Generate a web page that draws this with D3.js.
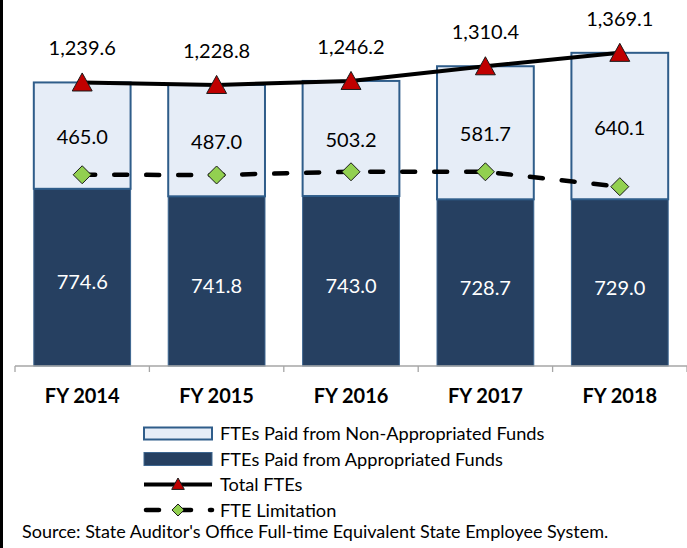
<!DOCTYPE html>
<html>
<head>
<meta charset="utf-8">
<script src="https://cdn.jsdelivr.net/npm/d3@7"></script>
<style>
	body { margin: 0; background: #fff; }
	svg { display: block; font-family: Lato, "Open Sans", sans-serif; }
</style>
</head>
<body>
<div id="chart"></div>
<script>
var years = ["FY 2014", "FY 2015", "FY 2016", "FY 2017", "FY 2018"];
var appropriated = [774.6, 741.8, 743.0, 728.7, 729.0];
var nonAppropriated = [465.0, 487.0, 503.2, 581.7, 640.1];
var totalFtes = [1239.6, 1228.8, 1246.2, 1310.4, 1369.1];
var fteLimitation = [836.0, 835.0, 849.0, 849.0, 784.0];

var width = 687, height = 548;
var axisY = 366;

var svg = d3.select("#chart").append("svg")
	.attr("width", width)
	.attr("height", height);

svg.append("rect")
	.attr("width", width).attr("height", height)
	.attr("fill", "#fff");

// thin dark strip on the left edge
svg.append("rect")
	.attr("x", 0).attr("y", 0)
	.attr("width", 3).attr("height", height)
	.attr("fill", "#000");

var x = d3.scaleBand()
	.domain(years)
	.range([15, 687])
	.paddingInner(0.28)
	.paddingOuter(0.14);

var y = d3.scaleLinear()
	.domain([0, 1600])
	.range([axisY, 0]);

var rows = years.map(function(d, i){
	return {
		key: d,
		app: appropriated[i],
		non: nonAppropriated[i],
		total: totalFtes[i],
		limit: fteLimitation[i]
	};
});

// stacked bars
var bars = svg.append("g").attr("class", "bars");

bars.selectAll("rect.app")
	.data(rows)
	.enter().append("rect")
	.attr("class", "app")
	.attr("x", function(d){ return x(d.key); })
	.attr("y", function(d){ return y(d.app); })
	.attr("width", x.bandwidth())
	.attr("height", function(d){ return y(0) - y(d.app); })
	.attr("fill", "#264061")
	.attr("stroke", "#3d6690")
	.attr("stroke-width", 1);

bars.selectAll("rect.non")
	.data(rows)
	.enter().append("rect")
	.attr("class", "non")
	.attr("x", function(d){ return x(d.key); })
	.attr("y", function(d){ return y(d.app + d.non); })
	.attr("width", x.bandwidth())
	.attr("height", function(d){ return y(d.app) - y(d.app + d.non); })
	.attr("fill", "#e6edf7")
	.attr("stroke", "#2f5d8a")
	.attr("stroke-width", 2);

// segment labels
var fmt1 = d3.format(".1f");
var fmtTotal = d3.format(",.1f");

bars.selectAll("text.app-label")
	.data(rows)
	.enter().append("text")
	.attr("class", "app-label")
	.attr("x", function(d){ return x(d.key) + x.bandwidth()/2; })
	.attr("y", function(d){ return (y(0) + y(d.app))/2 + 12; })
	.attr("text-anchor", "middle")
	.attr("font-size", "20px")
	.attr("fill", "#fff")
	.text(function(d){ return fmt1(d.app); });

bars.selectAll("text.non-label")
	.data(rows)
	.enter().append("text")
	.attr("class", "non-label")
	.attr("x", function(d){ return x(d.key) + x.bandwidth()/2; })
	.attr("y", function(d){ return (y(d.app) + y(d.app + d.non))/2 + 8.5; })
	.attr("text-anchor", "middle")
	.attr("font-size", "20px")
	.attr("fill", "#000")
	.text(function(d){ return fmt1(d.non); });

// x axis
var axis = svg.append("g")
	.attr("class", "x axis")
	.attr("transform", "translate(0," + axisY + ")");

axis.append("line")
	.attr("x1", 15).attr("x2", 687)
	.attr("stroke", "#a6a6a6").attr("stroke-width", 1.3);

var step = x.step();
axis.selectAll("line.tick")
	.data(d3.range(years.length + 1))
	.enter().append("line")
	.attr("class", "tick")
	.attr("x1", function(i){ return x(years[0]) - x.paddingOuter()*step + i*step; })
	.attr("x2", function(i){ return x(years[0]) - x.paddingOuter()*step + i*step; })
	.attr("y1", 0).attr("y2", 6)
	.attr("stroke", "#a6a6a6").attr("stroke-width", 1.3);

axis.selectAll("text")
	.data(years)
	.enter().append("text")
	.attr("x", function(d){ return x(d) + x.bandwidth()/2; })
	.attr("y", 37)
	.attr("text-anchor", "middle")
	.attr("font-size", "20px")
	.attr("font-weight", "bold")
	.attr("fill", "#000")
	.text(function(d){ return d; });

// lines
var cx = function(d){ return x(d.key) + x.bandwidth()/2; };

var limitLine = d3.line()
	.x(cx)
	.y(function(d){ return y(d.limit); });

var totalLine = d3.line()
	.x(cx)
	.y(function(d){ return y(d.total); });

svg.append("path")
	.datum(rows)
	.attr("d", limitLine)
	.attr("fill", "none")
	.attr("stroke", "#000")
	.attr("stroke-width", 4.5)
	.attr("stroke-dasharray", "13,19")
	.attr("stroke-linecap", "round");

svg.append("path")
	.datum(rows)
	.attr("d", totalLine)
	.attr("fill", "none")
	.attr("stroke", "#000")
	.attr("stroke-width", 4);

var diamond = function(s){
	return "M0," + (-s) + "L" + s + ",0L0," + s + "L" + (-s) + ",0Z";
};
var triangle = function(s){
	return "M0," + (-s) + "L" + (s*1.05) + "," + (s*0.9) + "L" + (-s*1.05) + "," + (s*0.9) + "Z";
};

svg.selectAll("path.limit-pt")
	.data(rows)
	.enter().append("path")
	.attr("class", "limit-pt")
	.attr("transform", function(d){ return "translate(" + cx(d) + "," + y(d.limit) + ")"; })
	.attr("d", diamond(9))
	.attr("fill", "#92d050")
	.attr("stroke", "#1a1a1a")
	.attr("stroke-width", 1);

svg.selectAll("path.total-pt")
	.data(rows)
	.enter().append("path")
	.attr("class", "total-pt")
	.attr("transform", function(d){ return "translate(" + cx(d) + "," + y(d.total) + ")"; })
	.attr("d", triangle(9.5))
	.attr("fill", "#c00000")
	.attr("stroke", "#1a1a1a")
	.attr("stroke-width", 1);

svg.selectAll("text.total-label")
	.data(rows)
	.enter().append("text")
	.attr("class", "total-label")
	.attr("x", cx)
	.attr("y", function(d){ return y(d.total) - 27; })
	.attr("text-anchor", "middle")
	.attr("font-size", "20px")
	.attr("fill", "#000")
	.text(function(d){ return fmtTotal(d.total); });

// legend
var legend = svg.append("g").attr("class", "legend");
var lx = 144, lw = 68, tx = 220;

legend.append("rect")
	.attr("x", lx).attr("y", 427.5).attr("width", lw).attr("height", 12)
	.attr("fill", "#e6edf7").attr("stroke", "#2f5d8a").attr("stroke-width", 2);
legend.append("rect")
	.attr("x", lx).attr("y", 452.5).attr("width", lw).attr("height", 13)
	.attr("fill", "#264061").attr("stroke", "#3d6690").attr("stroke-width", 1);

legend.append("line")
	.attr("x1", lx).attr("x2", lx + lw).attr("y1", 484.5).attr("y2", 484.5)
	.attr("stroke", "#000").attr("stroke-width", 4);
legend.append("path")
	.attr("transform", "translate(" + (lx + lw/2) + ",484)")
	.attr("d", triangle(6))
	.attr("fill", "#c00000").attr("stroke", "#1a1a1a").attr("stroke-width", 1);

legend.append("line")
	.attr("x1", lx + 2).attr("x2", lx + lw).attr("y1", 510).attr("y2", 510)
	.attr("stroke", "#000").attr("stroke-width", 4.5)
	.attr("stroke-dasharray", "13,19")
	.attr("stroke-linecap", "round");
legend.append("path")
	.attr("transform", "translate(" + (lx + lw/2) + ",510)")
	.attr("d", diamond(6))
	.attr("fill", "#92d050").attr("stroke", "#1a1a1a").attr("stroke-width", 1);

var legendLabels = ["FTEs Paid from Non-Appropriated Funds", "FTEs Paid from Appropriated Funds", "Total FTEs", "FTE Limitation"];
var legendY = [433.5, 459, 484.5, 510];
legend.selectAll("text")
	.data(legendLabels)
	.enter().append("text")
	.attr("x", tx)
	.attr("y", function(d, i){ return legendY[i] + 6.5; })
	.attr("font-size", "18.2px")
	.attr("fill", "#000")
	.text(function(d){ return d; });

svg.append("text")
	.attr("x", 22)
	.attr("y", 538)
	.attr("font-size", "18px")
	.attr("fill", "#000")
	.text("Source: State Auditor's Office Full-time Equivalent State Employee System.");
</script>
</body>
</html>
